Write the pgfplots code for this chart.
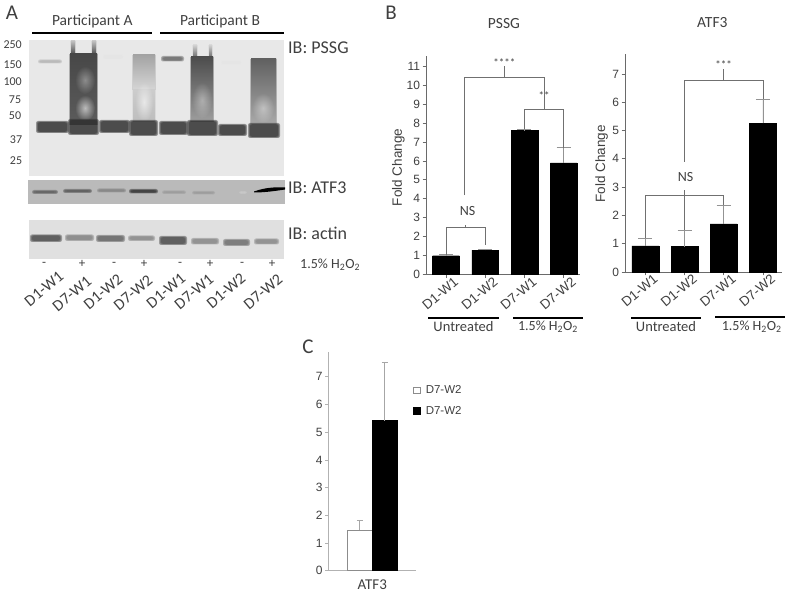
\documentclass[border=0pt]{standalone}
\usepackage{fontspec}
\setmainfont{Carlito}
\newfontfamily\arial{Liberation Sans}
\usepackage{pgfplots}
\usetikzlibrary{fadings}
\pgfplotsset{compat=1.18}
\tikzfading[name=softspot, inner color=transparent!0, outer color=transparent!100]
\definecolor{txt}{HTML}{404040}
\definecolor{axc}{HTML}{6A6A6A}
\definecolor{brk}{HTML}{707070}
\newcommand\fs[1]{\fontsize{#1}{#1}\selectfont}
% soft-edged blot band, pixel coordinates
\newcommand\blob[5]{%
  \foreach \i in {0,1,2}{%
    \pgfmathsetmacro\ax{#1-1+\i}\pgfmathsetmacro\ay{#2-1+\i*0.6}%
    \pgfmathsetmacro\bx{#3+1-\i}\pgfmathsetmacro\by{#4+1-\i*0.6}%
    \fill[#5,opacity=.45,rounded corners=2pt] (\ax,\ay) rectangle (\bx,\by);
  }}
% vertical smear with a soft rim
\newcommand\smear[6]{%
  \pgfmathsetmacro\ax{#1-1}\pgfmathsetmacro\bx{#3+1}%
  \fill[#5,opacity=.35] (\ax,#2) rectangle (\bx,#4);
  \shade[top color=#5,bottom color=#6,shading angle=0] (#1,#2) rectangle (#3,#4);}
% fuzzy pale spot
\newcommand\spot[5]{\fill[white,opacity=#5,path fading=softspot] (#1,#2) ellipse ({#3} and {#4});}
\pgfplotsset{
  figaxis/.style={
    scale only axis, clip=false, axis x line*=bottom, axis y line*=left,
    axis line style={axc,-,line width=.8pt},
    tick style={axc,line width=.7pt}, tick align=outside,
    major tick length=3.5pt, ytick pos=left, xtick pos=bottom,
    ymin=0, /pgf/number format/assume math mode=true,
    tick label style={font=\arial\fs{12},text=txt},
    yticklabel style={xshift=1pt},
    error bars/y dir=plus, error bars/y explicit,
    error bars/error bar style={color=gray!85,line width=.8pt},
    error bars/error mark options={rotate=90,mark size=7pt,color=gray!85,line width=.8pt},
  },
  catax/.style={
    figaxis, xtick={0,1,2,3}, xticklabels={D1-W1,D1-W2,D7-W1,D7-W2},
    xticklabel style={rotate=40,anchor=north east,inner sep=1pt,font=\arial\fs{13.5},text=txt,xshift=8pt,yshift=-2pt},
    ylabel={Fold Change},
    every axis y label/.append style={font=\arial\fs{13.5},text=txt},
    title style={font=\fs{15.5},text=txt,anchor=center},
  }
}
\begin{document}
\begin{tikzpicture}
\useasboundingbox (0,0) rectangle (787pt,596pt);
\begin{scope}[x=1pt,y=-1pt,yshift=596pt]
% ---- Panel A blots ----
\fill[white] (0,0) rectangle (787,596);
\fill[black!9] (29,40) rectangle (284,175.7);
\fill[black!27] (28,180) rectangle (285,204.5);
\fill[black!12] (29,220) rectangle (284,259);
% PSSG faint high bands
\blob{39}{60.5}{61}{62.5}{black!30}
\blob{104}{55.5}{122}{58}{black!10}
\blob{162}{57}{183}{60.5}{black!60}
\blob{222}{61.5}{240}{63.5}{black!10}
% smear lane 2
\smear{71}{41}{75}{56}{black!25}{black!75}
\smear{92}{41}{96}{56}{black!25}{black!75}
\smear{70}{54}{97}{125}{black!72}{black!64}
\spot{85}{80}{10}{14}{.35}
\spot{85}{108}{10}{13}{.6}
% smear lane 4
\smear{133}{55}{155}{90}{black!36}{black!16}
\smear{133}{90}{155}{122}{black!20}{black!26}
\spot{144}{102}{9}{20}{.6}
% smear lane 6
\smear{193}{45}{197}{58}{black!18}{black!60}
\smear{209}{45}{212}{58}{black!18}{black!60}
\smear{191}{57}{213}{122}{black!70}{black!38}
\spot{202}{100}{10}{18}{.35}
% smear lane 8
\smear{251}{59}{276}{124}{black!62}{black!34}
\spot{263}{108}{11}{15}{.4}
% main band
\blob{37}{122}{68}{132}{black!82}
\blob{69}{120}{98}{134}{black!82}
\blob{100}{121}{129}{132}{black!82}
\blob{130}{121}{157}{135}{black!82}
\blob{160}{122}{187}{134}{black!82}
\blob{188}{121}{217}{135}{black!82}
\blob{219}{125}{246}{135}{black!82}
\blob{249}{124}{279}{137}{black!82}
% ATF3 bands
\blob{33}{191}{57}{193}{black!65}
\blob{64}{190}{91}{192}{black!68}
\blob{98}{189.5}{125}{191.5}{black!50}
\blob{130}{190}{157}{192.5}{black!82}
\blob{163}{191.5}{185}{193}{black!40}
\blob{193}{192}{214}{193.5}{black!40}
\blob{240}{192}{246}{193}{black!20}
\fill[black] (254,191.5) .. controls (265,187.5) and (275,187) .. (285,187.5) -- (285,189.5) .. controls (275,191) and (265,192.5) .. (254,192.5) -- cycle;
% actin bands
\blob{31}{235.5}{61}{241}{black!72}
\blob{66}{235.5}{93}{240}{black!50}
\blob{97}{236}{124}{241}{black!62}
\blob{129}{236.5}{154}{240}{black!48}
\blob{160}{237}{186}{244}{black!72}
\blob{192}{239}{218}{243.5}{black!48}
\blob{224}{240}{249}{245}{black!58}
\blob{255}{239.5}{278}{243.5}{black!48}
% ---- Panel A text ----
\begin{scope}[every node/.style={text=txt,inner sep=0pt}]
\node[font=\fs{15.5}] at (92.3,21.7) {Participant A};
\node[font=\fs{15.5}] at (220,21.7) {Participant B};
\fill[black] (32,32) rectangle (152,34);
\fill[black] (160,32) rectangle (284,34);
\foreach \t/\x/\y in {250/12.7/45,150/12.7/65,100/12.7/81.7,75/15/99.3,50/15/115.7,37/16/140,25/16/161}
  \node[font=\fs{12}] at (\x,\y) {\t};
\node[anchor=west,font=\fs{18}] at (288,47.7) {IB: PSSG};
\node[anchor=west,font=\fs{18}] at (288,188) {IB: ATF3};
\node[anchor=west,font=\fs{18}] at (288,233) {IB: actin};
\foreach \x/\s in {44/-,82/+,114/-,144/+,180/-,210/+,242/-,272/+}
  \node[font=\fs{13}] at (\x,264) {\s};
\node[anchor=west,font=\fs{14}] at (300,265) {1.5\% H\textsubscript{2}O\textsubscript{2}};
\foreach \x/\y/\l in {58/270/D1-W1,86/275/D7-W1,117/273/D1-W2,147/274/D7-W2,180/272/D1-W1,208/273/D7-W1,240/272/D1-W2,277/273/D7-W2}
  \node[rotate=40,anchor=north east,font=\fs{16}] at (\x,\y) {\l};
% panel letters
\node[font=\fs{21}] at (12,13) {A};
\node[font=\fs{21}] at (391,13) {B};
\node[font=\fs{21}] at (308,347) {C};
% group rules under panel B
\fill[black] (428,317) rectangle (499,319);
\fill[black] (513,317) rectangle (583,319);
\fill[black] (631,317) rectangle (701,319);
\fill[black] (715,316) rectangle (785,318);
\node[font=\fs{14.5}] at (463.5,327) {Untreated};
\node[font=\fs{14}] at (548,327) {1.5\% H\textsubscript{2}O\textsubscript{2}};
\node[font=\fs{14.5}] at (666,327) {Untreated};
\node[font=\fs{14}] at (751.7,327) {1.5\% H\textsubscript{2}O\textsubscript{2}};
\end{scope}
\end{scope}
% ---- Panel B: PSSG ----
\begin{axis}[catax, at={(446pt,321.3pt)}, anchor=origin,
  x=39.2pt, y=18.97pt, xmin=-0.51, xmax=3.42, ymax=11.53,
  ytick={0,1,...,11}, title={PSSG},
  title style={at={(axis description cs:0.506,1.123)}},
  every axis y label/.append style={at={(axis description cs:-0.18,0.49)},rotate=0,anchor=center}]
\addplot[ybar,bar width=26.7pt,bar shift=0pt,fill=black,draw=black,error bars/.cd,y dir=plus,y explicit]
 coordinates {(0,1.0) +- (0,0.05) (1,1.3) +- (0,0.03) (2,7.6) +- (0,0.05) (3,5.9) +- (0,0.8)};
\draw[brk,line width=.8pt] (0,1.05) -- (0,2.5) -- (1,2.5) -- (1,1.55);
\draw[brk,line width=.8pt] (0.5,2.5) -- (0.5,2.6);
\draw[brk,line width=.8pt] (0.47,4.2) -- (0.47,10.4) -- (2.5,10.4) -- (2.5,8.72);
\draw[brk,line width=.8pt] (1.49,10.4) -- (1.49,11);
\draw[brk,line width=.8pt] (2,7.7) -- (2,8.72) -- (3,8.72) -- (3,6.7);
\draw[brk,line width=.8pt] (2.5,8.72) -- (2.5,9.2);
\node[font=\fs{14},text=txt] at (0.55,3.37) {NS};
\node[font=\fs{11},text=txt] at (1.49,11.17) {****};
\node[font=\fs{11},text=txt] at (2.5,9.42) {**};
\end{axis}
% ---- Panel B: ATF3 ----
\begin{axis}[catax, at={(645.3pt,324pt)}, anchor=origin,
  x=39.2pt, y=28.3pt, xmin=-0.518, xmax=3.49, ymax=7.69,
  ytick={0,1,...,7}, title={ATF3},
  title style={at={(axis description cs:0.556,1.119)}},
  every axis y label/.append style={at={(axis description cs:-0.148,0.497)},rotate=0,anchor=center}]
\addplot[ybar,bar width=27pt,bar shift=0pt,fill=black,draw=black,error bars/.cd,y dir=plus,y explicit]
 coordinates {(0,0.92) +- (0,0.27) (1,0.9) +- (0,0.58) (2,1.7) +- (0,0.65) (3,5.25) +- (0,0.85)};
\draw[brk,line width=.8pt] (0,1.19) -- (0,2.71) -- (2,2.71) -- (2,2.35);
\draw[brk,line width=.8pt] (1,1.48) -- (1,2.9);
\draw[brk,line width=.8pt] (1,3.9) -- (1,6.78) -- (3,6.78) -- (3,6.1);
\draw[brk,line width=.8pt] (2,6.78) -- (2,7.17);
\node[font=\fs{14},text=txt] at (1.03,3.37) {NS};
\node[font=\fs{11},text=txt] at (2,7.33) {***};
\end{axis}
% ---- Panel C ----
\begin{axis}[figaxis, at={(372.3pt,25.3pt)}, anchor=origin,
  x=1pt, y=27.7pt, xmin=-43.6, xmax=43.7, ymax=7.88,
  ytick={0,1,...,7}, xtick={0}, xticklabels={ATF3},
  axis line style={black!30,-,line width=.8pt},
  tick style={black!30,line width=.7pt},
  x tick style={draw=none},
  xticklabel style={font=\fs{15},text=txt,yshift=-2pt},
  legend style={at={(axis cs:40.4,6.76)},anchor=north west,draw=none,fill=none,
    font=\arial\fs{11.5},text=txt,row sep=7pt,inner sep=0pt,
    legend cell align=left,cells={anchor=west}},
  legend image code/.code={\draw[#1] (0,-3.3pt) rectangle (6.6pt,3.3pt); \path[draw=none,fill=none] (0,0) -- (10.5pt,0);}]
\addplot[ybar,bar width=25pt,bar shift=0pt,fill=white,draw=gray!90,line width=.7pt,error bars/.cd,y dir=plus,y explicit,
   error bar style={color=black!35,line width=1pt},error mark options={rotate=90,mark size=3pt,color=black!35,line width=1pt}]
 coordinates {(-12.5,1.47) +- (0,0.35)};
\addlegendentry{D7-W2}
\addplot[ybar,bar width=25pt,bar shift=0pt,fill=black,draw=black,error bars/.cd,y dir=plus,y explicit,
   error bar style={color=black!35,line width=1pt},error mark options={rotate=90,mark size=3pt,color=black!35,line width=1pt}]
 coordinates {(12.5,5.42) +- (0,2.08)};
\addlegendentry{D7-W2}
\end{axis}
\end{tikzpicture}
\end{document}
